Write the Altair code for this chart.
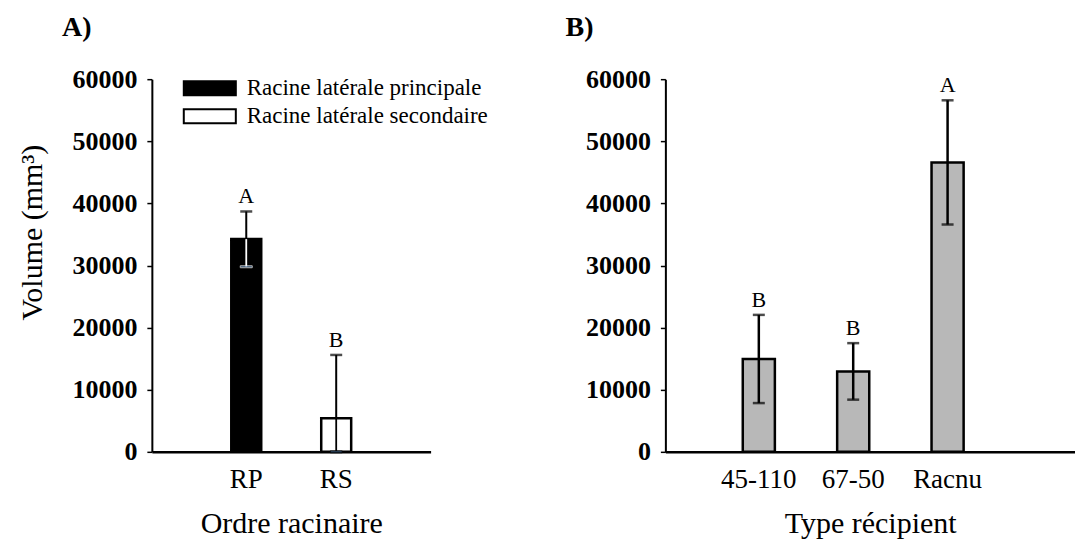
import altair as alt
import pandas as pd

# ---- data ----
a_cats = ["RP", "RS"]
a_series = ["Racine latérale principale", "Racine latérale secondaire"]
a_means = [34250, 5400]
a_errs = [4450, 10200]
a_letters = ["A", "B"]
a_lowcol = ["white", "black"]

b_cats = ["45-110", "67-50", "Racnu"]
b_means = [14950, 12950, 46600]
b_errs = [7100, 4550, 10000]
b_letters = ["B", "B", "A"]

y_ticks = [0, 10000, 20000, 30000, 40000, 50000, 60000]

FONT = "Liberation Serif"
TICK = 26
TTL = 30
LEG = 23
LET = 22

dfa = pd.DataFrame({"cat": a_cats, "series": a_series, "mean": a_means,
                    "err": a_errs, "letter": a_letters, "locol": a_lowcol})
dfa["hi"] = dfa["mean"] + dfa["err"]
dfa["lo"] = (dfa["mean"] - dfa["err"]).clip(lower=0)

dfb = pd.DataFrame({"cat": b_cats, "mean": b_means, "err": b_errs, "letter": b_letters})
dfb["hi"] = dfb["mean"] + dfb["err"]
dfb["lo"] = (dfb["mean"] - dfb["err"]).clip(lower=0)

yscale = alt.Scale(domain=[0, 60000], nice=False)


def yaxis(title, **kw):
    return alt.Axis(values=y_ticks, format="d", title=title, titleFont=FONT,
                    titleFontSize=TTL, titleFontWeight="normal", titleColor="black",
                    titlePadding=24, labelFont=FONT, labelFontSize=TICK,
                    labelFontWeight="bold", labelColor="black", labelPadding=10,
                    tickSize=5, tickColor="black", tickWidth=1.5,
                    domainColor="black", domainWidth=2, grid=False, **kw)


def xaxis(title):
    return alt.Axis(title=title, titleFont=FONT, titleFontSize=TTL,
                    titleFontWeight="normal", titleColor="black", titlePadding=16,
                    labelFont=FONT, labelFontSize=27, labelFontWeight="normal",
                    labelColor="black", labelAngle=0, labelPadding=15, ticks=False,
                    domainColor="black", domainWidth=2.5, grid=False)


# ---- Panel A ----
xa = alt.X("cat:N", sort=a_cats,
           scale=alt.Scale(paddingInner=0.667, paddingOuter=0.883, align=0.5),
           axis=xaxis("Ordre racinaire"))
basea = alt.Chart(dfa)

bars_a = basea.mark_bar(stroke="black", strokeWidth=2.5).encode(
    x=xa,
    y=alt.Y("mean:Q", scale=yscale, axis=yaxis("Volume (mm³)", titleY=153)),
    color=alt.Color("series:N", scale=alt.Scale(domain=a_series, range=["black", "white"]),
                    legend=alt.Legend(orient="none", legendX=43, legendY=-6, title=None,
                                      symbolType="M-1.86,-0.5H1.86V0.5H-1.86Z",
                                      symbolSize=784, symbolStrokeColor="black",
                                      symbolStrokeWidth=2, labelFont=FONT,
                                      labelFontSize=LEG, labelColor="black",
                                      labelOffset=22, rowPadding=1, padding=0,
                                      labelLimit=400)),
)
up_a = basea.mark_rule(color="black", strokeWidth=2).encode(x=xa, y="mean:Q", y2="hi:Q")
lo_a = basea.mark_rule(strokeWidth=1.8).encode(
    x=xa, y="lo:Q", y2="mean:Q", stroke=alt.Stroke("locol:N", scale=None))
cap_hi_a = basea.mark_tick(color="black", thickness=2.5, size=12).encode(x=xa, y="hi:Q")
cap_lo_a = basea.mark_tick(thickness=2, size=12).encode(
    x=xa, y="lo:Q", stroke=alt.Stroke("locol:N", scale=None))
txt_a = basea.mark_text(baseline="bottom", dy=-3, font=FONT, fontSize=LET,
                        color="black").encode(x=xa, y="hi:Q", text="letter:N")

chart_a = alt.layer(bars_a, up_a, lo_a, cap_hi_a, cap_lo_a, txt_a).properties(
    width=279, height=373,
    title=alt.TitleParams("A)", anchor="start", frame="group", dx=-90, offset=24,
                          font=FONT, fontSize=28, fontWeight="bold", color="black"),
)

# ---- Panel B ----
xb = alt.X("cat:N", sort=b_cats,
           scale=alt.Scale(paddingInner=0.66, paddingOuter=1.0, align=0.41),
           axis=xaxis("Type récipient"))
baseb = alt.Chart(dfb)
bars_b = baseb.mark_bar(fill="#b8b8b8", stroke="black", strokeWidth=2.5).encode(
    x=xb, y=alt.Y("mean:Q", scale=yscale, axis=yaxis(None)))
rule_b = baseb.mark_rule(color="black", strokeWidth=2.5).encode(x=xb, y="lo:Q", y2="hi:Q")
cap_hi_b = baseb.mark_tick(color="black", thickness=2.5, size=12).encode(x=xb, y="hi:Q")
cap_lo_b = baseb.mark_tick(color="black", thickness=2.5, size=12).encode(x=xb, y="lo:Q")
txt_b = baseb.mark_text(baseline="bottom", dy=-3, font=FONT, fontSize=LET,
                        color="black").encode(x=xb, y="hi:Q", text="letter:N")

chart_b = alt.layer(bars_b, rule_b, cap_hi_b, cap_lo_b, txt_b).properties(
    width=410, height=373,
    title=alt.TitleParams("B)", anchor="start", frame="group", dx=-100, offset=24,
                          font=FONT, fontSize=28, fontWeight="bold", color="black"),
)

chart = alt.hconcat(chart_a, chart_b, spacing=135).properties(
    padding={"left": 18, "top": 14, "right": 0, "bottom": 0},
    background="white",
).configure_view(stroke=None).configure_axis(
    labelFont=FONT, titleFont=FONT
).configure_legend(labelFont=FONT).configure_text(font=FONT).configure_title(font=FONT)

chart.save("out.html", embed_options={"renderer": "svg", "actions": False})
